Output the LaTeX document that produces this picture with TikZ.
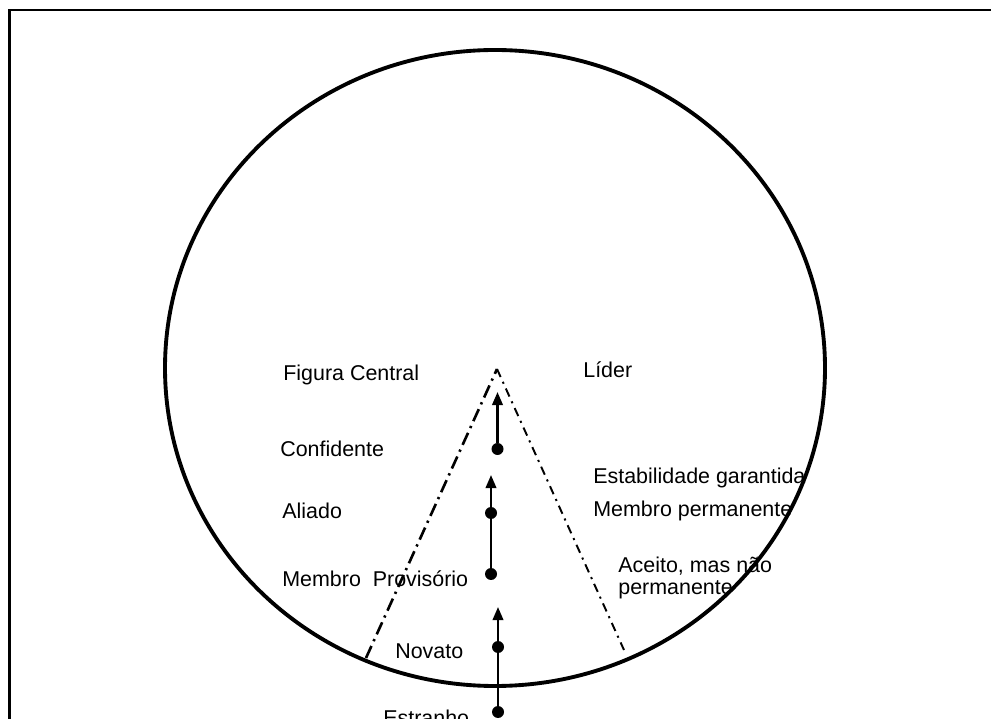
\documentclass[tikz,border=0pt]{standalone}
\usepackage{fontspec}
\setmainfont{Liberation Sans}
\usetikzlibrary{arrows.meta}

\begin{document}
\begin{tikzpicture}[x=0.02cm, y=-0.02cm]
    % Estilos
    \tikzstyle{rotulo} = [inner sep=0pt, anchor=base west, font=\fontsize{12.2}{12.5}\selectfont]
    \tikzstyle{ponto} = [circle, fill=black, inner sep=0pt, minimum size=0.24cm]
    \tikzstyle{seta} = [line width=1.4pt, -{Triangle[length=7.5pt, width=6pt]}]
    \tikzstyle{limite} = [line width=1.5pt, dash pattern=on 7.5pt off 3pt on 1.3pt off 3pt]
    \tikzstyle{limitefino} = [line width=1.1pt, dash pattern=on 5pt off 3pt on 1.2pt off 3pt]

    \useasboundingbox (0,0) rectangle (991,719);
    \clip (0,0) rectangle (991,719);

    % Moldura e circulo
    \draw[line width=1.3pt] (1000,10) -- (9.5,10) -- (9.5,730);
    \draw[line width=2.2pt] (495,368) ellipse [x radius=330, y radius=318];

    % Nos
    \coordinate (topo) at (497,369);
    \coordinate (baseEsq) at (366,658);
    \coordinate (baseDir) at (624,650);
    \coordinate (pontaA) at (497.5,392);
    \coordinate (pontaB) at (491,475);
    \coordinate (pontaC) at (498,607);

    \node[ponto] (pConfidente) at (497.5,449) {};
    \node[ponto] (pAliado) at (491,513) {};
    \node[ponto] (pProvisorio) at (491,574) {};
    \node[ponto] (pNovato) at (498,647) {};
    \node[ponto] (pEstranho) at (498,712) {};

    \node[rotulo] (figura) at (283,380.5) {Figura Central};
    \node[rotulo] (lider) at (583,378) {Líder};
    \node[rotulo] (confidente) at (280,457) {Confidente};
    \node[rotulo] (aliado) at (282,519) {Aliado};
    \node[rotulo] (provisorio) at (282,586) {Membro~ Provisório};
    \node[rotulo] (novato) at (395,658) {Novato};
    \node[rotulo] (estranho) at (383,725) {Estranho};
    \node[rotulo] (estabilidade) at (593,484) {Estabilidade garantida};
    \node[rotulo] (permanente) at (593,517) {Membro permanente};
    \node[rotulo, align=left] (aceito) at (618,594) {Aceito, mas não\\permanente};

    % Setas
    \draw[seta] (pConfidente) -- (pontaA);
    \draw[seta] (pProvisorio) -- (pontaB);
    \draw[seta] (pEstranho) -- (pontaC);
    \draw[limite] (baseEsq) -- (topo);
    \draw[limitefino] (topo) -- (baseDir);
\end{tikzpicture}
\end{document}
